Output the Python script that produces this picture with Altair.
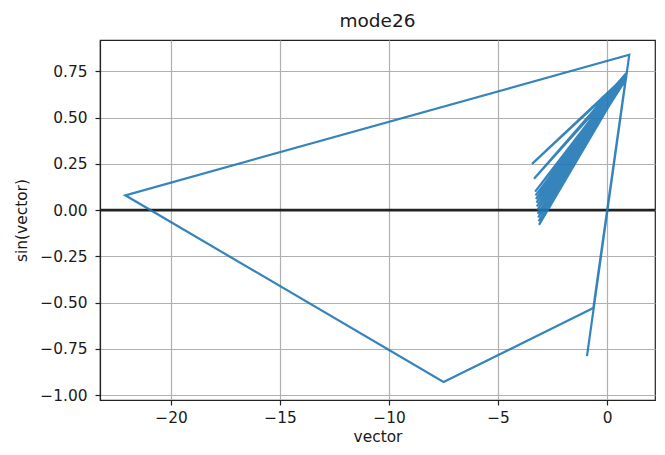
import altair as alt
import pandas as pd

xs = [-0.92, 1.02, -22.1, -7.5, -0.63, 0.88,
      -3.44, 0.86, -3.35, 0.88, -3.30, 0.90, -3.28, 0.86, -3.26, 0.88,
      -3.24, 0.85, -3.22, 0.89, -3.20, 0.86, -3.18, 0.88, -3.16, 0.85,
      -3.14, 0.87, -3.12]
ys = [-0.79, 0.84, 0.08, -0.93, -0.53, 0.73,
      0.25, 0.72, 0.17, 0.74, 0.10, 0.72, 0.08, 0.70, 0.06, 0.73,
      0.04, 0.71, 0.02, 0.74, 0.00, 0.72, -0.02, 0.71, -0.04, 0.73,
      -0.06, 0.72, -0.08]
x_ticks = [-20, -15, -10, -5, 0]
y_ticks = [-1.0, -0.75, -0.5, -0.25, 0.0, 0.25, 0.5, 0.75]

df = pd.DataFrame({"i": list(range(len(xs))), "x": xs, "y": ys})

font = "DejaVu Sans"
txt = "#1a1a1a"

line = alt.Chart(df).mark_line(color="#1f77b4", strokeWidth=2.2, clip=True,
                               opacity=0.9).encode(
    x=alt.X("x:Q", scale=alt.Scale(domain=[-23.26, 2.2], nice=False, zero=False),
            axis=alt.Axis(values=x_ticks, title="vector", format="d")),
    y=alt.Y("y:Q", scale=alt.Scale(domain=[-1.027, 0.92], nice=False, zero=False),
            axis=alt.Axis(values=y_ticks, title="sin(vector)", format=".2f")),
    order="i:Q",
)

zero = alt.Chart(pd.DataFrame({"z": [0]})).mark_rule(color="#222222", strokeWidth=2.6).encode(
    y="z:Q"
)

chart = (zero + line).properties(
    width=555, height=360,
    title=alt.TitleParams("mode26", font=font, fontSize=18.5, fontWeight="normal",
                          color=txt, offset=10),
    autosize=alt.AutoSizeParams(type="none"),
    padding={"left": 100, "top": 40, "right": 10, "bottom": 55},
).configure_view(stroke="#222222", strokeWidth=1.2).configure_axis(
    labelFont=font, titleFont=font, labelFontSize=15.4, titleFontSize=15.4,
    labelColor=txt, titleColor=txt, titleFontWeight="normal",
    domainColor="#222222", domainWidth=1.2, tickColor="#222222", tickWidth=1.2,
    tickSize=5, labelPadding=5,
    gridColor="#b0b0b0", gridWidth=1.2, grid=True,
).configure_axisX(titlePadding=4).configure_axisY(labelPadding=8, titlePadding=10)

chart.save("out.html", embed_options={"renderer": "svg", "actions": False})
